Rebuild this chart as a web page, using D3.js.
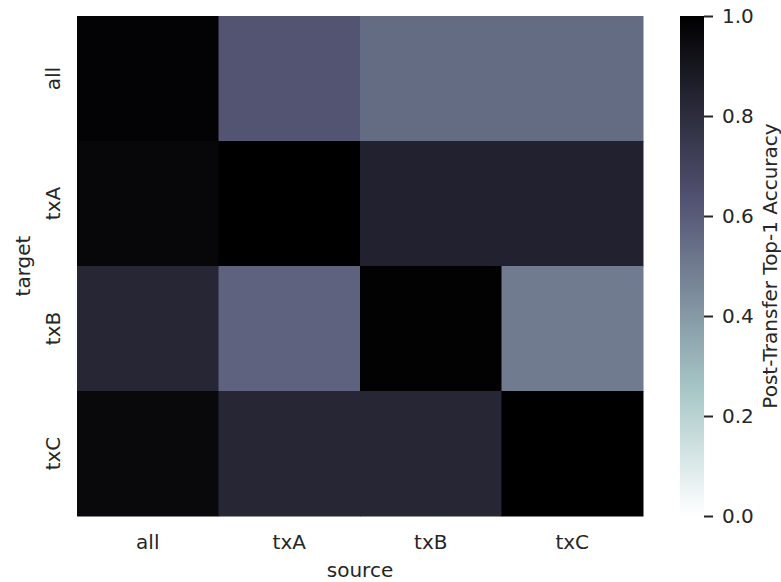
<!DOCTYPE html>
<html>
<head>
<meta charset="utf-8">
<script src="https://cdn.jsdelivr.net/npm/d3@7"></script>
<style>
  html, body { margin: 0; padding: 0; background: #fff; }
  text { font-family: "DejaVu Sans", sans-serif; fill: #262626; }
</style>
</head>
<body>
<svg id="chart" width="781" height="582"></svg>
<script>
// Transfer accuracy matrix: rows = target, columns = source
const sources = ["all", "txA", "txB", "txC"];
const targets = ["all", "txA", "txB", "txC"];
const rowAll = [0.985, 0.63, 0.55, 0.55];
const rowTxA = [0.97, 1.0, 0.85, 0.85];
const rowTxB = [0.83, 0.58, 0.99, 0.50];
const rowTxC = [0.96, 0.83, 0.83, 1.0];
const matrix = [rowAll, rowTxA, rowTxB, rowTxC];
const colorTicks = [0.0, 0.2, 0.4, 0.6, 0.8, 1.0];

// matplotlib "bone" colormap segments; the chart uses its reverse
const boneSeg = {
  r: [[0, 0], [0.746032, 0.652778], [1, 1]],
  g: [[0, 0], [0.365079, 0.319444], [0.746032, 0.777778], [1, 1]],
  b: [[0, 0], [0.365079, 0.444444], [1, 1]]
};
function seg(points, x) {
  for (let i = 1; i < points.length; i++) {
    if (x <= points[i][0]) {
      const [x0, y0] = points[i - 1], [x1, y1] = points[i];
      return y0 + (y1 - y0) * (x - x0) / (x1 - x0);
    }
  }
  return points[points.length - 1][1];
}
function boneR(v) {
  const x = 1 - Math.max(0, Math.min(1, v));
  const c = k => Math.round(255 * seg(boneSeg[k], x));
  return `rgb(${c("r")},${c("g")},${c("b")})`;
}

const svg = d3.select("#chart");
const plotLeft = 77, plotTop = 16, plotW = 566, plotH = 500;
const fontSize = 20;

const x = d3.scaleBand().domain(sources).range([plotLeft, plotLeft + plotW]);
const y = d3.scaleBand().domain(targets).range([plotTop, plotTop + plotH]);

const cells = [];
matrix.forEach((row, i) => row.forEach((v, j) => cells.push({ t: targets[i], s: sources[j], v })));

svg.append("g").selectAll("rect").data(cells).join("rect")
  .attr("x", d => x(d.s))
  .attr("y", d => y(d.t))
  .attr("width", x.bandwidth() + 0.5)
  .attr("height", y.bandwidth() + 0.5)
  .attr("fill", d => boneR(d.v));

// Axes (no tick marks, seaborn heatmap style)
const xAxis = svg.append("g")
  .attr("transform", `translate(0,${plotTop + plotH})`)
  .call(d3.axisBottom(x).tickSize(0));
xAxis.select(".domain").remove();
xAxis.selectAll(".tick text")
  .attr("font-size", fontSize).style("fill", "#262626")
  .attr("y", 33).attr("dy", 0);

const yAxis = svg.append("g")
  .attr("transform", `translate(${plotLeft},0)`)
  .call(d3.axisLeft(y).tickSize(0).tickPadding(0));
yAxis.select(".domain").remove();
yAxis.selectAll(".tick text")
  .attr("font-size", fontSize)
  .style("fill", "#262626")
  .attr("text-anchor", "middle")
  .attr("x", 0).attr("y", 0).attr("dy", 0)
  .attr("transform", "translate(-17,0) rotate(-90)");

svg.append("text")
  .attr("x", plotLeft + plotW / 2).attr("y", 577)
  .attr("text-anchor", "middle").attr("font-size", fontSize)
  .text("source");
svg.append("text")
  .attr("transform", `translate(30,${plotTop + plotH / 2}) rotate(-90)`)
  .attr("text-anchor", "middle").attr("font-size", fontSize)
  .text("target");

// Colorbar
const cbX = 680, cbW = 24;
const cScale = d3.scaleLinear().domain([0, 1]).range([plotTop + plotH, plotTop]);
const defs = svg.append("defs");
const grad = defs.append("linearGradient").attr("id", "cbgrad")
  .attr("x1", 0).attr("y1", 1).attr("x2", 0).attr("y2", 0);
d3.range(0, 1.0001, 0.02).forEach(t => {
  grad.append("stop").attr("offset", t).attr("stop-color", boneR(t));
});
svg.append("rect")
  .attr("x", cbX).attr("y", plotTop).attr("width", cbW).attr("height", plotH)
  .attr("fill", "url(#cbgrad)");

const cAxis = svg.append("g")
  .attr("transform", `translate(${cbX + cbW},0)`)
  .call(d3.axisRight(cScale).tickValues(colorTicks).tickFormat(d3.format(".1f")).tickSize(9).tickPadding(9));
cAxis.select(".domain").remove();
cAxis.selectAll("line").attr("stroke", "#262626").attr("stroke-width", 2);
cAxis.selectAll("text").attr("font-size", fontSize).style("fill", "#262626");

svg.append("text")
  .attr("transform", `translate(777,${plotTop + plotH / 2}) rotate(-90)`)
  .attr("text-anchor", "middle").attr("font-size", fontSize)
  .text("Post-Transfer Top-1 Accuracy");
</script>
</body>
</html>
